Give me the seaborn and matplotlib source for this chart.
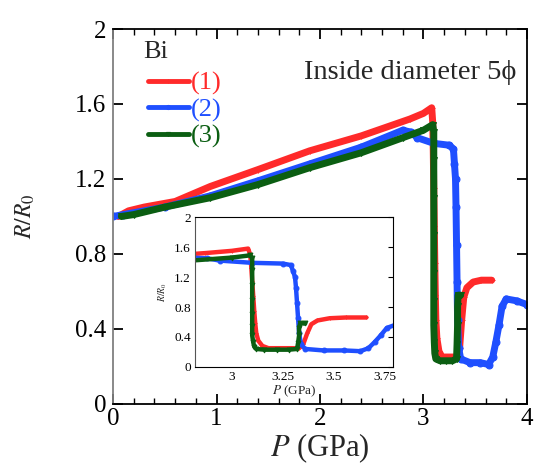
import matplotlib
matplotlib.use("Agg")
import matplotlib.pyplot as plt
import seaborn as sns
import pandas as pd
from matplotlib.ticker import MultipleLocator

# ---- data ----
p1 = [0.05, 0.15, 0.3, 0.6, 0.94, 1.4, 1.9, 2.4, 2.87, 3.0, 3.08, 3.09, 3.095, 3.10, 3.105, 3.11, 3.115, 3.12, 3.13, 3.15, 3.18, 3.25, 3.33, 3.35, 3.37, 3.39, 3.42, 3.48, 3.56, 3.66]
r1 = [1.00, 1.03, 1.05, 1.08, 1.16, 1.25, 1.35, 1.43, 1.52, 1.55, 1.58, 1.50, 1.35, 1.15, 0.95, 0.75, 0.58, 0.45, 0.35, 0.28, 0.25, 0.25, 0.25, 0.30, 0.45, 0.57, 0.62, 0.65, 0.66, 0.66]

p2 = [0.0, 0.1, 0.5, 0.94, 1.4, 1.9, 2.4, 2.80, 2.88, 2.94, 3.10, 3.25, 3.29, 3.30, 3.31, 3.315, 3.32, 3.325, 3.33, 3.34, 3.36, 3.45, 3.55, 3.63, 3.67, 3.70, 3.73, 3.76, 3.80, 3.90, 4.0]
r2 = [1.00, 1.01, 1.05, 1.11, 1.19, 1.28, 1.37, 1.46, 1.45, 1.42, 1.39, 1.38, 1.36, 1.28, 1.20, 1.05, 0.85, 0.65, 0.45, 0.30, 0.24, 0.22, 0.22, 0.21, 0.25, 0.33, 0.42, 0.52, 0.56, 0.55, 0.53]

p3 = [0.08, 0.2, 0.5, 0.94, 1.4, 1.9, 2.4, 2.8, 3.0, 3.09, 3.10, 3.10, 3.10, 3.10, 3.10, 3.10, 3.10, 3.105, 3.11, 3.12, 3.16, 3.22, 3.28, 3.32, 3.325, 3.33, 3.33, 3.335, 3.36]
r3 = [1.00, 1.01, 1.05, 1.10, 1.17, 1.26, 1.34, 1.42, 1.46, 1.49, 1.45, 1.30, 1.10, 0.90, 0.70, 0.55, 0.42, 0.33, 0.27, 0.24, 0.23, 0.23, 0.23, 0.24, 0.32, 0.42, 0.52, 0.58, 0.58]

series_labels = ["(1)", "(2)", "(3)"]
colors = ["#ff2a2a", "#1f4fff", "#0b5e12"]
markers = ["+", "o", "v"]

x_ticks_main = [0, 1, 2, 3, 4]
y_ticks_main = [0, 0.4, 0.8, 1.2, 1.6, 2]
y_ticklabels_main = ["0", "0.4", "0.8", "1.2", "1.6", "2"]
x_ticks_inset = [3, 3.25, 3.5, 3.75]
x_ticklabels_inset = ["3", "3.25", "3.5", "3.75"]

frames = []
for lab, p, r in zip(series_labels, [p1, p2, p3], [r1, r2, r3]):
    frames.append(pd.DataFrame({"P": p, "R": r, "series": lab}))
df = pd.concat(frames, ignore_index=True)

sns.set_theme(style="white")
plt.rcParams["font.family"] = ["Liberation Serif", "DejaVu Serif"]
plt.rcParams["mathtext.fontset"] = "stix"

fig = plt.figure(figsize=(5.36, 4.68), dpi=100)
ax = fig.add_axes([0.211, 0.137, 0.772, 0.801])

for lab, col, mk in zip(series_labels, colors, markers):
    sub = df[df.series == lab]
    sns.lineplot(data=sub, x="P", y="R", ax=ax, color=col, lw=5, sort=False,
                 estimator=None, marker=mk, markersize=5 if mk != "+" else 4,
                 markeredgecolor=col, markerfacecolor=col, label=lab, legend=False)

ax.set_xlim(0, 4)
ax.set_ylim(0, 2)
ax.set_xticks(x_ticks_main)
ax.set_xticklabels([str(t) for t in x_ticks_main])
ax.set_yticks(y_ticks_main)
ax.set_yticklabels(y_ticklabels_main)
ax.xaxis.set_minor_locator(MultipleLocator(0.2))
ax.tick_params(which="both", direction="in", top=True, right=True, left=True, bottom=True,
               labelsize=18, colors="black")
ax.tick_params(which="major", length=7, width=1.3, pad=5)
ax.tick_params(axis="x", which="major", pad=3)
ax.tick_params(which="minor", length=4, width=1.0)
for s in ["top", "right", "bottom"]:
    ax.spines[s].set_color("black")
    ax.spines[s].set_linewidth(1.3)
ax.spines["left"].set_color("#808080")
ax.spines["left"].set_linewidth(1.3)

ax.set_xlabel(r"$P$ (GPa)", fontsize=22, labelpad=1)
ax.set_ylabel(r"$R/R_{0}$", fontsize=17, labelpad=27)

ax.text(0.072, 0.94, "Bi", transform=ax.transAxes, fontsize=19, va="center", ha="left")
ax.text(0.975, 0.885, "Inside diameter 5\u03d5", transform=ax.transAxes, fontsize=20.5,
        va="center", ha="right")

# legend
leg = ax.legend(loc="upper left", bbox_to_anchor=(0.058, 0.915), frameon=False,
                fontsize=19, handlelength=1.55, handletextpad=0.1, labelspacing=0.1,
                borderaxespad=0)
for txt, col in zip(leg.get_texts(), colors):
    txt.set_color(col)
for h in leg.legend_handles:
    h.set_linewidth(3.5)
    h.set_markersize(3)

# inset
axi = fig.add_axes([0.364, 0.216, 0.369, 0.320])
for lab, col, mk in zip(series_labels, colors, markers):
    sub = df[df.series == lab]
    sns.lineplot(data=sub, x="P", y="R", ax=axi, color=col, lw=3.2, sort=False,
                 estimator=None, marker=mk, markersize=3.5 if mk != "+" else 3,
                 markeredgecolor=col, markerfacecolor=col, legend=False)
axi.set_xlim(2.82, 3.79)
axi.set_ylim(0, 2)
axi.set_xticks(x_ticks_inset)
axi.set_xticklabels(x_ticklabels_inset)
axi.set_yticks(y_ticks_main)
axi.set_yticklabels(y_ticklabels_main)
axi.xaxis.set_minor_locator(MultipleLocator(0.05))
axi.tick_params(which="both", direction="in", top=False, right=True, labelsize=9.5,
                colors="black")
axi.tick_params(which="major", length=3.5, width=0.8, pad=3)
axi.tick_params(which="minor", length=2, width=0.6)
for s in ["top", "right", "bottom"]:
    axi.spines[s].set_color("black")
    axi.spines[s].set_linewidth(0.8)
axi.spines["left"].set_color("#555555")
axi.spines["left"].set_linewidth(0.8)
axi.set_xlabel(r"$P$ (GPa)", fontsize=9.5, labelpad=0)
axi.set_ylabel(r"$R/R_{0}$", fontsize=7, labelpad=4)
axi.set_facecolor("white")

fig.savefig("out.png", dpi=100)
